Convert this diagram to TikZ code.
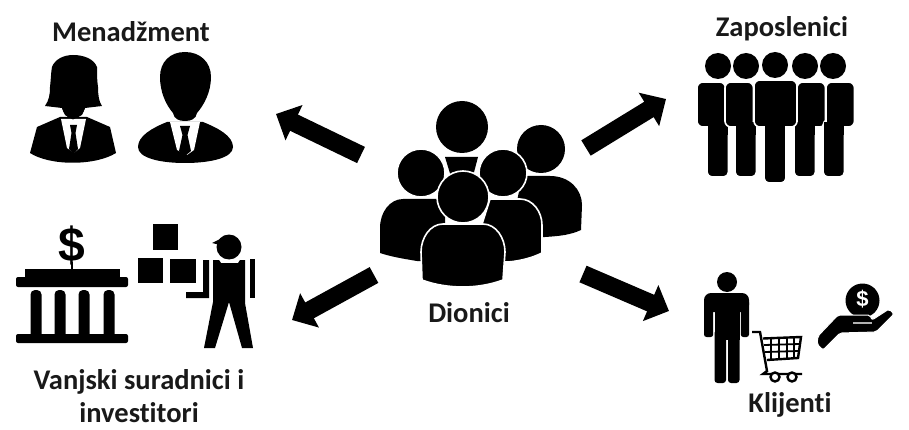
\documentclass[tikz,border=0pt]{standalone}
\usepackage{fontspec}
\setmainfont[Ligatures=NoCommon,RawFeature={-liga;-clig;-dlig}]{Carlito}
\usetikzlibrary{arrows.meta}
\newfontfamily\dollarfont{Liberation Sans}
\tikzset{
  x=1pt,y=-1pt,
  icon/.style={fill=black,draw=none},
  halo/.style={fill=black,draw=white,line width=1.6pt},
  paper/.style={fill=white,draw=none},
  caption/.style={font=\bfseries\fontsize{28.5}{33}\selectfont,text=black!90,align=center,inner sep=0pt},
  bigarrow/.style={line width=18pt,draw=black,-{Triangle[width=38pt,length=20pt]}},
  cartline/.style={draw=black,line width=2.4pt,fill=none},
  gridline/.style={draw=black,line width=1.8pt},
}
\begin{document}
\begin{tikzpicture}
\useasboundingbox (0,0) rectangle (909,430);
% captions
\node[caption] (tM) at (131,32) {Menadžment};
\node[caption] (tZ) at (782,29) {Zaposlenici};
\node[caption] (tV) at (139,396) {Vanjski suradnici i\\investitori};
\node[caption] (tD) at (469,313) {Dionici};
\node[caption] (tK) at (790,405) {Klijenti};
% arrow ends
\coordinate (dNW) at (361,155); \coordinate (mgmt) at (276,114);
\coordinate (dNE) at (586,148); \coordinate (empl) at (666,99);
\coordinate (dSW) at (374,275); \coordinate (part) at (292,320);
\coordinate (dSE) at (583,274); \coordinate (clie) at (669,311);
\draw[bigarrow] (dNW) -- (mgmt);
\draw[bigarrow] (dNE) -- (empl);
\draw[bigarrow] (dSW) -- (part);
\draw[bigarrow] (dSE) -- (clie);
% woman
\fill[icon] (45,106) .. controls (49,100) and (50,95) .. (50,87) .. controls (51,78) and (51,72) .. (52,67)
  .. controls (55,59) and (64,55) .. (73,55) .. controls (84,55) and (94,59) .. (97,67)
  .. controls (97,75) and (97,80) .. (98,87) .. controls (98,95) and (99,102) .. (102,106)
  -- (85,108) .. controls (84,113) and (78,119) .. (73,119) .. controls (68,119) and (63,113) .. (62,108) -- cycle;
\fill[icon] (30,153) -- (37,127) -- (60,117) -- (87,117) -- (110,127) -- (116,153)
  .. controls (95,166) and (50,166) .. (30,153) -- cycle;
\fill[paper] (61,119) -- (86,119) -- (80,148) -- (74,153) -- (67,148) -- cycle;
\fill[icon] (62,108) -- (85,108) -- (82,115) -- (73,119.5) -- (65,115) -- cycle;
\fill[icon] (70,125) -- (77,125) -- (75.5,133) -- (78,149) -- (73.5,154) -- (69,149) -- (71.5,133) -- cycle;
% man
\fill[icon] (185,52) .. controls (200,52) and (211,62) .. (211,77) .. controls (211,92) and (204,105) .. (197,113)
  .. controls (196,119) and (191,121) .. (185,121) .. controls (179,121) and (174,119) .. (173,113)
  .. controls (166,105) and (160,92) .. (160,77) .. controls (160,62) and (170,52) .. (185,52) -- cycle;
\fill[icon] (167,122) -- (203,122) .. controls (218,128) and (233,136) .. (233,147) .. controls (233,158) and (210,163) .. (185,163)
  .. controls (160,163) and (138,158) .. (138,147) .. controls (138,136) and (152,128) .. (167,122) -- cycle;
\fill[paper] (170,122) -- (200,122) -- (194,150) -- (187,155) -- (177,150) -- cycle;
\fill[icon] (180,126) -- (190,126) -- (187.5,135) -- (191,151) -- (185,156) -- (179,151) -- (182.5,135) -- cycle;
% bank
\node[font=\dollarfont\bfseries\fontsize{48}{48}\selectfont,inner sep=0pt] (dollar) at (72,245) {\$};
\fill[icon] (71,262) rectangle (73,270);
\fill[icon] (25,269) rectangle (120,278);
\fill[icon,rounded corners=2pt] (16,277) rectangle (128,287);
\foreach \cx in {36,60,84,109}{
  \fill[icon,rounded corners=4.5pt] (\cx-5.5,340) rectangle (\cx+5.5,290);
}
\fill[icon,rounded corners=2pt] (16,334) rectangle (128,343);
% boxes
\fill[icon] (153,224) rectangle (178,250);
\fill[icon] (138,258) rectangle (163,283);
\fill[icon] (170,259) rectangle (196,283);
% worker
\fill[icon] (229,247) circle[radius=12.5pt];
\fill[icon] (212,243) -- (222,238) -- (224,246) -- cycle;
\fill[icon] (213,260) -- (219,260) -- (221,263) -- (238,263) -- (240,260) -- (245,260) -- (245,303) -- (253,348) -- (242,348) -- (229,302) -- (215,348) -- (204,348) -- (213,302) -- cycle;
\fill[icon] (203,260) -- (209,260) -- (209,298) -- (186,298) -- (186,292) -- (203,292) -- cycle;
\fill[icon] (250,259) rectangle (255,298);
% central group
\fill[icon] (462,127) circle[radius=26pt];
\fill[icon] (445,157) -- (478,157) -- (472,180) -- (452,180) -- cycle;
\fill[icon] (541,149) circle[radius=24pt];
\fill[icon] (522,176) -- (550,176) .. controls (570,176) and (582,190) .. (582,205) -- (581,230) .. controls (570,235) and (560,236) .. (545,237) -- (510,237) -- cycle;
\fill[icon] (403,199) -- (445,199) -- (445,262) -- (417,261) .. controls (405,259) and (392,257) .. (380,253)
  -- (380,228) .. controls (380,212) and (390,199) .. (403,199) -- cycle;
\draw[halo] (421,173) circle[radius=24pt];
\draw[halo] (490,199) -- (520,199) .. controls (533,199) and (542,212) .. (542,225) -- (542,253) .. controls (532,258) and (520,261) .. (508,262) -- (470,262) -- cycle;
\draw[halo] (503,173) circle[radius=24pt];
\draw[halo] (443,224) -- (483,224) .. controls (496,224) and (505,238) .. (505,252) -- (503,280)
  .. controls (490,285) and (475,287) .. (463,287) .. controls (450,287) and (435,285) .. (422,280) -- (421,252)
  .. controls (421,238) and (430,224) .. (443,224) -- cycle;
\draw[halo] (463,197) circle[radius=26pt];
% employees
\foreach \hx/\tx/\lx in {718/697/707, 746/725/735, 805/797/794, 833/826/823}{
  \fill[icon] (\hx,66) circle[radius=13pt];
  \draw[halo,rounded corners=5pt] (\lx,120) rectangle (\lx+21.5,177);
  \draw[halo,rounded corners=6pt] (\tx,82) rectangle (\tx+28.5,127);
  \fill[icon] (\lx+.8,122) rectangle (\lx+20.7,135);
}
\fill[icon] (775,65) circle[radius=13pt];
\draw[halo,rounded corners=5pt] (764,120) rectangle (786,183);
\draw[halo,rounded corners=6pt] (754,80) rectangle (797,127);
\fill[icon] (764.8,122) rectangle (785.2,135);
% shopper
\fill[icon] (727,282) circle[radius=10pt];
\fill[icon,rounded corners=7pt] (704,312) rectangle (749,293);
\fill[icon,rounded corners=2.5pt] (704,300) rectangle (713.2,337);
\fill[icon,rounded corners=2.5pt] (740.8,300) rectangle (749,337);
\fill[icon] (714.5,300) rectangle (739.5,340);
\fill[icon,rounded corners=3pt] (714.5,330) rectangle (726,383);
\fill[icon,rounded corners=3pt] (728,330) rectangle (739.5,383);
% cart
\draw[cartline] (752,332) -- (760,332) -- (767,371) -- (763,374) -- (802,374);
\draw[cartline,fill=white] (763,338.5) -- (801,337) -- (798,358) -- (767,360);
\foreach \gx in {771,779,787,794}{\draw[gridline] (\gx,338) -- (\gx,359);}
\draw[gridline] (764,345) -- (800,344);
\draw[gridline] (765,352) -- (799,351);
\draw[cartline,fill=white] (775,377) circle[radius=4.5pt];
\draw[cartline,fill=white] (792,377) circle[radius=4.5pt];
% hand and coin
\fill[icon] (862.5,300.5) circle[radius=17pt];
\node[font=\dollarfont\bfseries\fontsize{22}{22}\selectfont,text=white,inner sep=0pt] (coin) at (862.5,299) {\$};
\draw[fill=black,draw=white,line width=1pt,rounded corners=2pt] (818,336) -- (838,315) -- (870,315) -- (872,320) -- (889,309) -- (894,314) -- (876,332) -- (840,333) -- (823,350) -- (817,344) -- cycle;
\draw[white!70!black,line width=1.2pt] (853,323) -- (872,323);
\end{tikzpicture}
\end{document}
